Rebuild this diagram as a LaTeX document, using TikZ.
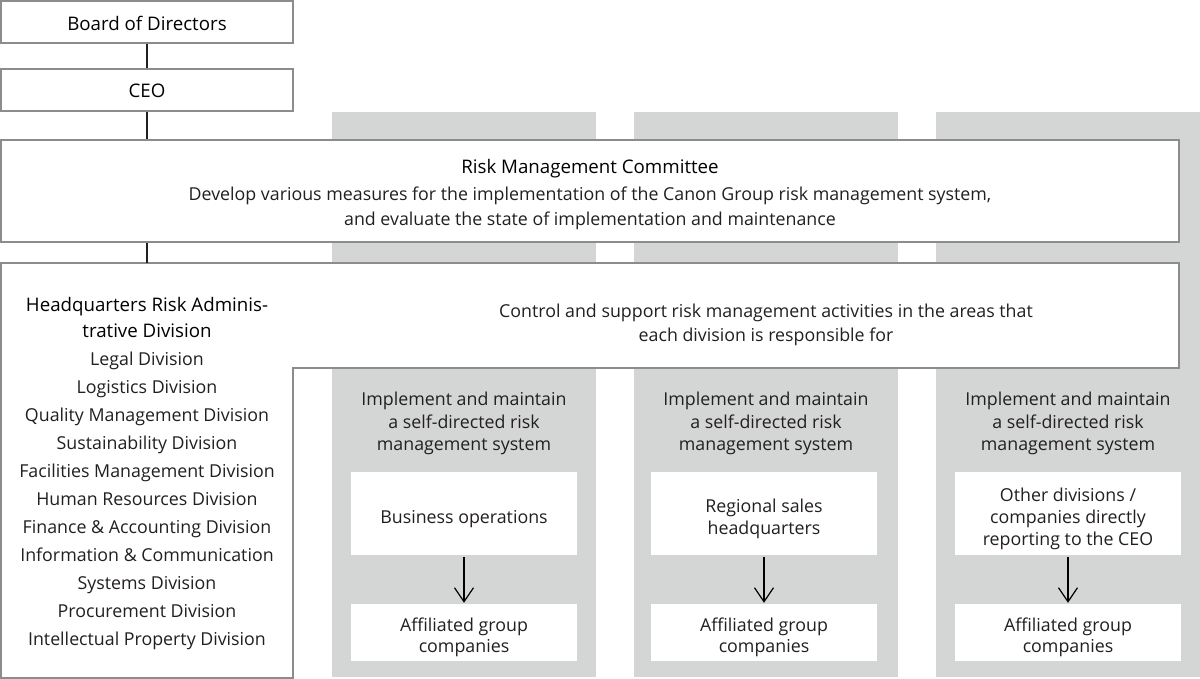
\documentclass[tikz,border=0pt]{standalone}
\usepackage{fontspec}
\setmainfont{Open Sans}
\usetikzlibrary{arrows.meta}
\definecolor{colgrey}{HTML}{D4D5D5}
\definecolor{edgegrey}{HTML}{8C8C8C}
\definecolor{txt}{HTML}{231F20}
\begin{document}
\begin{tikzpicture}[x=1pt,y=-1pt,
  font=\fontsize{17.8}{22.5}\selectfont,
  every node/.style={text=txt, inner sep=0pt, align=center},
  box/.style={draw=edgegrey, line width=1.3pt, fill=white},
  inbox/.style={fill=white, draw=none, minimum width=226pt},
  colband/.style={fill=colgrey, draw=none},
  link/.style={draw=txt, line width=1.4pt},
  arr/.style={draw=black, line width=1.2pt, -{Straight Barb[length=14pt,width=19pt,line width=1.2pt]}},
  listline/.style={anchor=base},
  titleline/.style={anchor=base, text=black, font=\fontsize{18.7}{22.5}\selectfont},
  ]
\useasboundingbox (0,0) rectangle (1200,679);
% grey columns
\path[colband] (332,112) rectangle (596,677);
\path[colband] (634,112) rectangle (898,677);
\path[colband] (936,112) rectangle (1200,677);
% top boxes
\node[box, minimum width=292pt, minimum height=42pt] (board) at (147,22) {};
\node[titleline] (boardt) at (147,31) {Board of Directors};
\node[box, minimum width=292pt, minimum height=42pt] (ceo) at (147,90) {};
\node[titleline] (ceot) at (147,98) {CEO};
\node[box, minimum width=1178pt, minimum height=102pt] (rmc) at (590,191) {};
\node[titleline] (rmct) at (590,174) {Risk Management Committee};
\node[listline] (rmc1) at (590,201) {Develop various measures for the implementation of the Canon Group risk management system,};
\node[listline] (rmc2) at (590,226) {and evaluate the state of implementation and maintenance};
% HQ L-shaped box
\coordinate (hqtop) at (147,263);
\draw[box] (1,263) -- (1179,263) -- (1179,368) -- (293,368) -- (293,678) -- (1,678) -- cycle;
\node[listline] (ctl1) at (766,317) {Control and support risk management activities in the areas that};
\node[listline] (ctl2) at (766,341) {each division is responsible for};
\node[titleline] (hq1) at (147,311) {Headquarters Risk Adminis-};
\node[titleline] (hq2) at (147,337.5) {trative Division};
\foreach \t [count=\i from 0] in {Legal Division, Logistics Division, Quality Management Division, Sustainability Division, Facilities Management Division, Human Resources Division, Finance \& Accounting Division, Information \& Communication, Systems Division, Procurement Division, Intellectual Property Division}
  \node[listline] (div\i) at (147,365.5+28*\i) {\t};
% connectors
\draw[link] (board.south) -- (ceo.north);
\draw[link] (ceo.south) -- (ceo.south |- rmc.north);
\draw[link] (rmc.south -| hqtop) -- (hqtop);
% columns
\foreach \c/\n in {464/a, 766/b, 1068/c}
  \node (imp\n) at (\c,423.5) {Implement and maintain\\a self-directed risk\\management system};
\node[inbox, minimum height=83pt] (bo) at (464,513.5) {};
\node[inbox, minimum height=83pt] (rs) at (764,513.5) {};
\node[inbox, minimum height=83pt] (od) at (1068,513.5) {};
\node (bot) at (464,519) {Business operations};
\node (rst) at (764,519) {Regional sales\\headquarters};
\node[font=\fontsize{17.8}{22}\selectfont] (odt) at (1068,519) {Other divisions /\\companies directly\\reporting to the CEO};
\node[inbox, minimum height=57pt] (afa) at (464,632.5) {};
\node[inbox, minimum height=57pt] (afb) at (764,632.5) {};
\node[inbox, minimum height=57pt] (afc) at (1068,632.5) {};
\foreach \n/\c in {a/464, b/764, c/1068}
  \node[font=\fontsize{17.8}{21}\selectfont] (af\n t) at (\c,637) {Affiliated group\\companies};
\draw[arr] ([yshift=-2pt]bo.south) -- ([yshift=1pt]afa.north);
\draw[arr] ([yshift=-2pt]rs.south) -- ([yshift=1pt]afb.north);
\draw[arr] ([yshift=-2pt]od.south) -- ([yshift=1pt]afc.north);
\end{tikzpicture}
\end{document}
